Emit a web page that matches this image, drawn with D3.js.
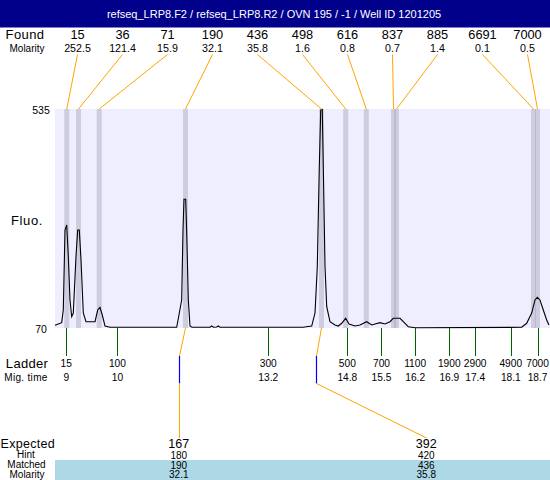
<!DOCTYPE html>
<html><head><meta charset="utf-8">
<script src="https://cdn.jsdelivr.net/npm/d3@7"></script>
<style>
body{margin:0;background:#fff;}
text{font-family:"Liberation Sans",Arial,sans-serif;}
</style></head>
<body><div id="chart"></div>
<script>
const title = "refseq_LRP8.F2 / refseq_LRP8.R2 / OVN 195 / -1  / Well ID 1201205";
const foundSizes = [15, 36, 71, 190, 436, 498, 616, 837, 885, 6691, 7000];
const foundMolarity = [252.5, 121.4, 15.9, 32.1, 35.8, 1.6, 0.8, 0.7, 1.4, 0.1, 0.5];
const foundTimes = [9.052, 9.292, 9.716, 11.484, 14.271, 14.767, 15.189, 15.747, 15.808, 18.615, 18.697];
const ladderSizes = [15, 100, 300, 500, 700, 1100, 1900, 2900, 4900, 7000];
const ladderTimes = [9.04, 10.09, 13.18, 14.80, 15.50, 16.19, 16.89, 17.42, 18.15, 18.70];
const ladderTimeLabels = ["9", "10", "13.2", "14.8", "15.5", "16.2", "16.9", "17.4", "18.1", "18.7"];
const expectedSizes = [167, 392];
const hintSizes = [180, 420];
const matchedSizes = [190, 436];
const matchedMolarity = [32.1, 35.8];
const matchedIndex = [3, 4];
const expectedTimes = [11.351, 14.158];
const yTicks = [70, 535];
const traceTime = [8.81, 8.947, 8.98, 9.015, 9.05, 9.083, 9.117, 9.152, 9.185, 9.24, 9.275, 9.308, 9.343, 9.39, 9.445, 9.63, 9.685, 9.732, 9.779, 9.835, 9.937,
  11.304, 11.406, 11.433, 11.453, 11.488, 11.509, 11.542, 11.576, 11.617, 11.986, 12.021, 12.058, 12.12, 12.156, 12.19,
  13.892, 14.07, 14.138, 14.185, 14.226, 14.255, 14.287, 14.308, 14.343, 14.378, 14.445, 14.548, 14.615, 14.685, 14.767, 14.835, 14.958,
  15.06, 15.197, 15.3, 15.367, 15.47, 15.572, 15.675, 15.742, 15.88, 15.947, 16.05, 16.187, 18.373, 18.476, 18.578, 18.646, 18.693, 18.748, 18.816, 18.885, 18.932];
const traceFluo = [75.7, 81.3, 108.2, 278, 288.7, 221.4, 129.5, 94, 101.8, 221.4, 278, 278, 214.4, 101.8, 83.4, 83.4, 108.2, 114, 97.6, 74.2, 71.5,
  71.5, 129.5, 278, 343.3, 343.3, 271.7, 129.5, 74.2, 71.5, 71.5, 74.2, 71.5, 72, 74.2, 71.5,
  71.5, 74.2, 101.8, 200, 412.5, 532.9, 534.4, 412.5, 200, 115.2, 83.4, 76.4, 74.2, 80, 90.6, 78.5, 74.2,
  76.4, 83.4, 76.4, 78.5, 81.3, 78.5, 83.4, 90.6, 90.6, 83.4, 72.8, 70.6, 71.5, 80, 101.8, 129.5, 135.2, 129.5, 108.2, 87, 76.4];

const W = 550, H = 480;
const L = 55, R = 550, T = 109, B = 328;
const svg = d3.select("#chart").append("svg").attr("width", W).attr("height", H);

const x = d3.scaleLinear().domain([8.81, 8.81 + (R - L) / 48.8]).range([L, R]);
const y = d3.scaleLinear().domain([70, 535]).range([B, T]);
const slot = d3.scaleBand().domain(d3.range(foundSizes.length)).range([L, R]);
const slot2 = d3.scaleBand().domain(d3.range(expectedSizes.length)).range([L, R]);
const fmt1 = d3.format(".1f");
const crisp = v => Math.round(v) + 0.5;

// header
svg.append("rect").attr("x", 0).attr("y", 0).attr("width", W).attr("height", 27.5).attr("fill", "#00008b");
svg.append("text").attr("x", 274).attr("y", 18).attr("text-anchor", "middle").attr("fill", "#fff")
  .attr("font-size", 11).text(title);

// plot background
svg.append("rect").attr("x", L).attr("y", T).attr("width", R - L).attr("height", B - T).attr("fill", "#eeeeff");

// bands
svg.append("g").selectAll("rect").data(foundTimes).join("rect")
  .attr("x", d => x(d) - 2.5).attr("y", T).attr("width", 5).attr("height", B - T)
  .attr("fill", "rgb(165,165,185)").attr("fill-opacity", 0.45);

// trace
const pts = traceTime.map((t, i) => [t, traceFluo[i]]);
svg.append("path").datum(pts).attr("fill", "none").attr("stroke", "#000").attr("stroke-width", 1.1)
  .attr("d", d3.line().x(d => x(d[0])).y(d => y(d[1])));

// y labels
svg.append("g").selectAll("text").data(yTicks).join("text")
  .attr("x", 41).attr("y", d => y(d) + 4.5).attr("text-anchor", "middle").attr("font-size", 10.5).text(d => d);
svg.append("text").attr("x", 27).attr("y", 224.5).attr("text-anchor", "middle").attr("font-size", 13)
  .attr("letter-spacing", 0.6).text("Fluo.");

// found row
svg.append("text").attr("x", 25).attr("y", 39).attr("text-anchor", "middle").attr("font-size", 13).attr("letter-spacing", 0.4).text("Found");
svg.append("text").attr("x", 27).attr("y", 51.5).attr("text-anchor", "middle").attr("font-size", 10).text("Molarity");
svg.append("g").selectAll("text").data(foundSizes).join("text")
  .attr("x", (d, i) => slot(i) + slot.bandwidth() / 2).attr("y", 39).attr("text-anchor", "middle")
  .attr("font-size", 12.8).text(d => d);
svg.append("g").selectAll("text").data(foundMolarity).join("text")
  .attr("x", (d, i) => slot(i) + slot.bandwidth() / 2).attr("y", 51.5).attr("text-anchor", "middle")
  .attr("font-size", 10.7).text(d => fmt1(d));
svg.append("g").selectAll("line").data(foundTimes).join("line")
  .attr("x1", (d, i) => slot(i) + slot.bandwidth() / 2).attr("y1", 54.5)
  .attr("x2", d => x(d)).attr("y2", T)
  .attr("stroke", "#ffa500").attr("stroke-width", 1);

// ladder
svg.append("g").selectAll("line").data(ladderTimes).join("line")
  .attr("x1", d => crisp(x(d))).attr("x2", d => crisp(x(d))).attr("y1", B).attr("y2", 356)
  .attr("stroke", "#006400").attr("stroke-width", 1);
svg.append("text").attr("x", 27).attr("y", 367.5).attr("text-anchor", "middle").attr("font-size", 13).attr("letter-spacing", 0.3).text("Ladder");
svg.append("text").attr("x", 26).attr("y", 381).attr("text-anchor", "middle").attr("font-size", 10).attr("letter-spacing", 0.3).text("Mig. time");
svg.append("g").selectAll("text").data(ladderSizes).join("text")
  .attr("x", (d, i) => x(ladderTimes[i])).attr("y", 366.5).attr("text-anchor", "middle").attr("font-size", 10.2).text(d => d);
svg.append("g").selectAll("text").data(ladderTimeLabels).join("text")
  .attr("x", (d, i) => x(ladderTimes[i])).attr("y", 381).attr("text-anchor", "middle").attr("font-size", 10.2).text(d => d);

// expected connectors
expectedTimes.forEach((t, i) => {
  const px = x(foundTimes[matchedIndex[i]]);
  const ex = crisp(x(t));
  const sx = crisp(slot2(i) + slot2.bandwidth() / 2);
  svg.append("line").attr("x1", px).attr("y1", B).attr("x2", ex).attr("y2", 356).attr("stroke", "#ffa500");
  svg.append("line").attr("x1", ex).attr("y1", 356).attr("x2", ex).attr("y2", 383.5).attr("stroke", "#0000ff").attr("stroke-width", 1.2);
  svg.append("line").attr("x1", ex).attr("y1", 383.5).attr("x2", sx).attr("y2", 438).attr("stroke", "#ffa500");
});

// bottom table
svg.append("rect").attr("x", L).attr("y", 460).attr("width", R - L).attr("height", 20).attr("fill", "#add8e6");
svg.append("text").attr("x", 0.5).attr("y", 447.5).attr("text-anchor", "start").attr("font-size", 12.5).attr("letter-spacing", 0.3).text("Expected");
svg.append("text").attr("x", 26).attr("y", 458).attr("text-anchor", "middle").attr("font-size", 10).text("Hint");
svg.append("text").attr("x", 26.5).attr("y", 468).attr("text-anchor", "middle").attr("font-size", 10).text("Matched");
svg.append("text").attr("x", 27).attr("y", 478).attr("text-anchor", "middle").attr("font-size", 10).text("Molarity");
const cx = i => slot2(i) + slot2.bandwidth() / 2;
svg.append("g").selectAll("text").data(expectedSizes).join("text")
  .attr("x", (d, i) => cx(i)).attr("y", 448).attr("text-anchor", "middle").attr("font-size", 12.5).text(d => d);
svg.append("g").selectAll("text").data(hintSizes).join("text")
  .attr("x", (d, i) => cx(i)).attr("y", 458.5).attr("text-anchor", "middle").attr("font-size", 10).text(d => d);
svg.append("g").selectAll("text").data(matchedSizes).join("text")
  .attr("x", (d, i) => cx(i)).attr("y", 468.5).attr("text-anchor", "middle").attr("font-size", 10).text(d => d);
svg.append("g").selectAll("text").data(matchedMolarity).join("text")
  .attr("x", (d, i) => cx(i)).attr("y", 478).attr("text-anchor", "middle").attr("font-size", 10).text(d => fmt1(d));
</script></body></html>
